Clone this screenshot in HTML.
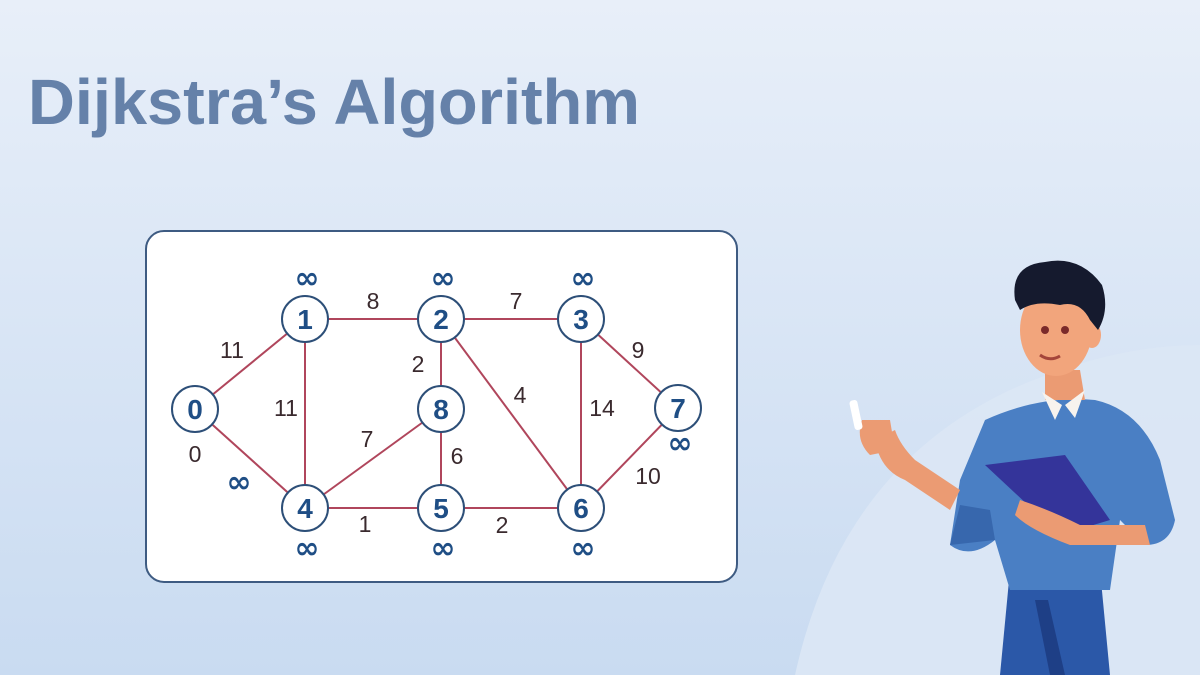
<!DOCTYPE html>
<html><head><meta charset="utf-8"><style>
html,body{margin:0;padding:0;}
body{width:1200px;height:675px;overflow:hidden;background:#dbe6f5;}
svg{display:block}
</style></head><body>
<svg width="1200" height="675" viewBox="0 0 1200 675" xmlns="http://www.w3.org/2000/svg">
<defs>
<linearGradient id="bg" x1="0" y1="0" x2="0" y2="1">
<stop offset="0" stop-color="#e8eff9"/><stop offset="1" stop-color="#c9dbf1"/>
</linearGradient>
</defs>
<rect width="1200" height="675" fill="url(#bg)"/>
<path d="M795 675 Q840 470 1010 390 Q1110 345 1200 345 L1200 675 Z" fill="#dce7f5" opacity="0.9"/>
<text x="28" y="124" font-family="Liberation Sans, sans-serif" font-weight="bold" font-size="64" fill="#6581a9" textLength="612" lengthAdjust="spacingAndGlyphs">Dijkstra’s Algorithm</text>

<rect x="146" y="231" width="591" height="351" rx="18" fill="#ffffff" stroke="#3e5b82" stroke-width="2"/>
<g stroke="#b0465c" stroke-width="2">
<line x1="195" y1="409" x2="305" y2="319"/>
<line x1="195" y1="409" x2="305" y2="508"/>
<line x1="305" y1="319" x2="441" y2="319"/>
<line x1="305" y1="319" x2="305" y2="508"/>
<line x1="441" y1="319" x2="581" y2="319"/>
<line x1="441" y1="319" x2="441" y2="409"/>
<line x1="441" y1="319" x2="581" y2="508"/>
<line x1="581" y1="319" x2="678" y2="408"/>
<line x1="581" y1="319" x2="581" y2="508"/>
<line x1="678" y1="408" x2="581" y2="508"/>
<line x1="305" y1="508" x2="441" y2="409"/>
<line x1="441" y1="409" x2="441" y2="508"/>
<line x1="305" y1="508" x2="441" y2="508"/>
<line x1="441" y1="508" x2="581" y2="508"/>
</g>
<g fill="#ffffff" stroke="#2d4f78" stroke-width="2">
<circle cx="195" cy="409" r="23"/><circle cx="305" cy="319" r="23"/><circle cx="441" cy="319" r="23"/>
<circle cx="581" cy="319" r="23"/><circle cx="678" cy="408" r="23"/><circle cx="441" cy="409" r="23"/>
<circle cx="305" cy="508" r="23"/><circle cx="441" cy="508" r="23"/><circle cx="581" cy="508" r="23"/>
</g>
<g font-family="Liberation Sans, sans-serif" font-weight="bold" font-size="28" fill="#1f4e85" text-anchor="middle">
<text x="195" y="419">0</text><text x="305" y="329">1</text><text x="441" y="329">2</text>
<text x="581" y="329">3</text><text x="678" y="418">7</text><text x="441" y="419">8</text>
<text x="305" y="518">4</text><text x="441" y="518">5</text><text x="581" y="518">6</text>
</g>
<g font-family="DejaVu Sans, sans-serif" font-weight="bold" font-size="30" fill="#1f4e85" text-anchor="middle">
<text x="307" y="288">∞</text><text x="443" y="288">∞</text><text x="583" y="288">∞</text>
<text x="680" y="453">∞</text><text x="239" y="492">∞</text>
<text x="307" y="558">∞</text><text x="443" y="558">∞</text><text x="583" y="558">∞</text>
</g>
<g font-family="Liberation Sans, sans-serif" font-size="23" fill="#3a2a2e" text-anchor="middle">
<text x="373" y="309">8</text><text x="516" y="309">7</text>
<text x="232" y="358">11</text><text x="638" y="358">9</text>
<text x="418" y="372">2</text><text x="520" y="403">4</text>
<text x="286" y="416">11</text><text x="602" y="416">14</text>
<text x="195" y="462">0</text><text x="367" y="447">7</text><text x="457" y="464">6</text>
<text x="648" y="484">10</text>
<text x="365" y="532">1</text><text x="502" y="533">2</text>
</g>

<!-- person -->
<g>
<path d="M1010 570 L1100 570 L1110 675 L1000 675 Z" fill="#2b58a8"/>
<path d="M1035 600 L1050 675 L1065 675 L1048 600 Z" fill="#1e3f86"/>
<path d="M985 420 Q1040 395 1095 400 Q1140 410 1160 460 L1175 520 Q1170 545 1145 545 L1120 520 L1110 590 L1010 590 L995 540 Q970 560 950 545 L960 480 Z" fill="#4a7fc4"/>
<path d="M950 545 L995 540 L990 510 L960 505 Z" fill="#3767ad"/>
<path d="M985 465 L1065 455 L1110 520 L1060 535 Z" fill="#34349a"/>
<path d="M875 440 Q880 470 905 480 L950 510 L960 490 L915 460 Q900 445 895 430 Z" fill="#eb9b73"/>
<path d="M862 420 Q855 440 870 455 L895 450 L890 420 Z" fill="#eb9b73"/>
<rect x="852" y="400" width="8" height="30" rx="3" fill="#ffffff" transform="rotate(-12 856 415)"/>
<path d="M1020 500 Q1050 510 1080 525 L1145 525 L1150 545 L1070 545 Q1030 530 1015 515 Z" fill="#eb9b73"/>
<path d="M1045 370 L1080 370 L1085 400 L1045 400 Z" fill="#eb9b73"/>
<path d="M1042 392 L1062 405 L1055 420 Z M1085 390 L1065 405 L1075 418 Z" fill="#f7f3ee"/>
<ellipse cx="1056" cy="330" rx="36" ry="46" fill="#f2a57c"/>
<ellipse cx="1092" cy="335" rx="9" ry="13" fill="#f2a57c"/>
<path d="M1015 300 Q1010 265 1045 262 Q1080 255 1102 285 Q1110 310 1098 330 L1090 320 Q1080 300 1060 305 Q1035 300 1020 310 Z" fill="#151a2e"/>
<circle cx="1045" cy="330" r="4" fill="#7a2a2a"/><circle cx="1065" cy="330" r="4" fill="#7a2a2a"/>
<path d="M1040 355 Q1050 362 1060 356" stroke="#a4453a" stroke-width="3" fill="none"/>
</g>
</svg>
</body></html>
